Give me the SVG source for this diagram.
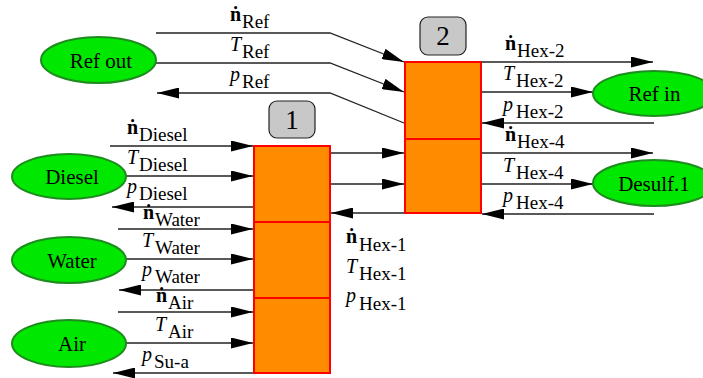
<svg xmlns="http://www.w3.org/2000/svg" width="703" height="378" viewBox="0 0 703 378">
<defs>
<marker id="ah" markerUnits="userSpaceOnUse" markerWidth="22" markerHeight="11" refX="22" refY="5.5" orient="auto" viewBox="0 0 22 11">
<path d="M0,0 L22,5.5 L0,11 z" fill="#000"/>
</marker>
</defs>

<g id="connectors" fill="none" stroke="#222" stroke-width="1.3">
<polyline points="156,33 330,33 404,62" marker-end="url(#ah)"/>
<polyline points="156,63 330,63 404,92" marker-end="url(#ah)"/>
<polyline points="404,123 330,93 157,93" marker-end="url(#ah)"/>
<line x1="481" y1="62" x2="653" y2="62" marker-end="url(#ah)"/>
<line x1="481" y1="92" x2="593" y2="92" marker-end="url(#ah)"/>
<line x1="654" y1="123" x2="482" y2="123" marker-end="url(#ah)"/>
<line x1="481" y1="153" x2="653" y2="153" marker-end="url(#ah)"/>
<line x1="481" y1="184" x2="593" y2="184" marker-end="url(#ah)"/>
<line x1="654" y1="214" x2="482" y2="214" marker-end="url(#ah)"/>
<line x1="330" y1="153" x2="404" y2="153" marker-end="url(#ah)"/>
<line x1="330" y1="184" x2="404" y2="184" marker-end="url(#ah)"/>
<line x1="404" y1="213" x2="331" y2="213" marker-end="url(#ah)"/>
<line x1="110" y1="146" x2="253" y2="146" marker-end="url(#ah)"/>
<line x1="126" y1="176" x2="253" y2="176" marker-end="url(#ah)"/>
<line x1="254" y1="207" x2="112" y2="207" marker-end="url(#ah)"/>
<line x1="118" y1="229" x2="253" y2="229" marker-end="url(#ah)"/>
<line x1="126" y1="259" x2="253" y2="259" marker-end="url(#ah)"/>
<line x1="254" y1="290" x2="119" y2="290" marker-end="url(#ah)"/>
<line x1="118" y1="312" x2="253" y2="312" marker-end="url(#ah)"/>
<line x1="126" y1="343" x2="253" y2="343" marker-end="url(#ah)"/>
<line x1="254" y1="373" x2="113" y2="373" marker-end="url(#ah)"/>
</g>

<g id="connector-labels" fill="#000">
<text style="font-family:'Liberation Serif',serif;font-size:20px"><tspan style="font-weight:bold" x="230" y="21">ṅ</tspan><tspan style="font-size:19px" x="242" y="28">Ref</tspan></text>
<text style="font-family:'Liberation Serif',serif;font-size:20px"><tspan style="font-style:italic" x="230" y="51">T</tspan><tspan style="font-size:19px" x="242" y="58">Ref</tspan></text>
<text style="font-family:'Liberation Serif',serif;font-size:20px"><tspan style="font-style:italic" x="230" y="81">p</tspan><tspan style="font-size:19px" x="242" y="88">Ref</tspan></text>

<text style="font-family:'Liberation Serif',serif;font-size:20px"><tspan style="font-weight:bold" x="505" y="50">ṅ</tspan><tspan style="font-size:19px" x="517" y="57">Hex-2</tspan></text>
<text style="font-family:'Liberation Serif',serif;font-size:20px"><tspan style="font-style:italic" x="503" y="80">T</tspan><tspan style="font-size:19px" x="516" y="87">Hex-2</tspan></text>
<text style="font-family:'Liberation Serif',serif;font-size:20px"><tspan style="font-style:italic" x="503" y="111">p</tspan><tspan style="font-size:19px" x="516" y="118">Hex-2</tspan></text>
<text style="font-family:'Liberation Serif',serif;font-size:20px"><tspan style="font-weight:bold" x="505" y="141">ṅ</tspan><tspan style="font-size:19px" x="517" y="148">Hex-4</tspan></text>
<text style="font-family:'Liberation Serif',serif;font-size:20px"><tspan style="font-style:italic" x="503" y="172">T</tspan><tspan style="font-size:19px" x="516" y="179">Hex-4</tspan></text>
<text style="font-family:'Liberation Serif',serif;font-size:20px"><tspan style="font-style:italic" x="503" y="202">p</tspan><tspan style="font-size:19px" x="516" y="209">Hex-4</tspan></text>

<text style="font-family:'Liberation Serif',serif;font-size:20px"><tspan style="font-weight:bold" x="127" y="134">ṅ</tspan><tspan style="font-size:19px" x="139" y="141">Diesel</tspan></text>
<text style="font-family:'Liberation Serif',serif;font-size:20px"><tspan style="font-style:italic" x="127" y="164">T</tspan><tspan style="font-size:19px" x="139" y="171">Diesel</tspan></text>
<text style="font-family:'Liberation Serif',serif;font-size:20px"><tspan style="font-style:italic" x="127" y="193">p</tspan><tspan style="font-size:19px" x="139" y="200">Diesel</tspan></text>
<text style="font-family:'Liberation Serif',serif;font-size:20px"><tspan style="font-weight:bold" x="143" y="219">ṅ</tspan><tspan style="font-size:19px" x="155" y="226">Water</tspan></text>
<text style="font-family:'Liberation Serif',serif;font-size:20px"><tspan style="font-style:italic" x="142" y="247">T</tspan><tspan style="font-size:19px" x="155" y="254">Water</tspan></text>
<text style="font-family:'Liberation Serif',serif;font-size:20px"><tspan style="font-style:italic" x="142" y="276">p</tspan><tspan style="font-size:19px" x="155" y="283">Water</tspan></text>
<text style="font-family:'Liberation Serif',serif;font-size:20px"><tspan style="font-weight:bold" x="156" y="302">ṅ</tspan><tspan style="font-size:19px" x="168" y="309">Air</tspan></text>
<text style="font-family:'Liberation Serif',serif;font-size:20px"><tspan style="font-style:italic" x="155" y="331">T</tspan><tspan style="font-size:19px" x="168" y="338">Air</tspan></text>
<text style="font-family:'Liberation Serif',serif;font-size:20px"><tspan style="font-style:italic" x="142" y="361">p</tspan><tspan style="font-size:19px" x="154" y="368">Su-a</tspan></text>

<text style="font-family:'Liberation Serif',serif;font-size:20px"><tspan style="font-weight:bold" x="346" y="243">ṅ</tspan><tspan style="font-size:19px" x="359" y="251">Hex-1</tspan></text>
<text style="font-family:'Liberation Serif',serif;font-size:20px"><tspan style="font-style:italic" x="346" y="273">T</tspan><tspan style="font-size:19px" x="359" y="280">Hex-1</tspan></text>
<text style="font-family:'Liberation Serif',serif;font-size:20px"><tspan style="font-style:italic" x="346" y="302">p</tspan><tspan style="font-size:19px" x="359" y="310">Hex-1</tspan></text>
</g>

<g id="node-ref-out">
<ellipse cx="98.5" cy="60" rx="57.5" ry="23" fill="#00e800" stroke="#1e8c1e" stroke-width="2"/>
<text style="font-family:'Liberation Serif',serif;font-size:21px" text-anchor="middle" x="101" y="67.5">Ref out</text>
</g>
<g id="node-ref-in">
<ellipse cx="654" cy="93.5" rx="61" ry="22.5" fill="#00e800" stroke="#1e8c1e" stroke-width="2"/>
<text style="font-family:'Liberation Serif',serif;font-size:21px" text-anchor="middle" x="654.5" y="101">Ref in</text>
</g>
<g id="node-desulf">
<ellipse cx="654" cy="183" rx="61" ry="23" fill="#00e800" stroke="#1e8c1e" stroke-width="2"/>
<text style="font-family:'Liberation Serif',serif;font-size:21px" text-anchor="middle" x="654" y="190.5">Desulf.1</text>
</g>
<g id="node-diesel">
<ellipse cx="69" cy="176.5" rx="57" ry="22.5" fill="#00e800" stroke="#1e8c1e" stroke-width="2"/>
<text style="font-family:'Liberation Serif',serif;font-size:21px" text-anchor="middle" x="72" y="184">Diesel</text>
</g>
<g id="node-water">
<ellipse cx="69" cy="260" rx="57" ry="23" fill="#00e800" stroke="#1e8c1e" stroke-width="2"/>
<text style="font-family:'Liberation Serif',serif;font-size:21px" text-anchor="middle" x="72" y="267.5">Water</text>
</g>
<g id="node-air">
<ellipse cx="69" cy="343.5" rx="57" ry="23.5" fill="#00e800" stroke="#1e8c1e" stroke-width="2"/>
<text style="font-family:'Liberation Serif',serif;font-size:21px" text-anchor="middle" x="72" y="351">Air</text>
</g>

<g id="node-hex1" fill="#ff8c00" stroke="#ff0000" stroke-width="2">
<rect x="254" y="146" width="76" height="76"/>
<rect x="254" y="222" width="76" height="76"/>
<rect x="254" y="298" width="76" height="75"/>
</g>
<g id="node-hex2" fill="#ff8c00" stroke="#ff0000" stroke-width="2">
<rect x="405" y="62" width="76" height="77"/>
<rect x="405" y="139" width="76" height="74"/>
</g>
<g id="tag-1">
<rect x="269" y="101" width="46" height="37" rx="8" fill="#c8c8c8" stroke="#222" stroke-width="1.2"/>
<text style="font-family:'Liberation Serif',serif;font-size:27px" text-anchor="middle" x="292" y="129">1</text>
</g>
<g id="tag-2">
<rect x="420" y="17" width="46" height="38" rx="8" fill="#c8c8c8" stroke="#222" stroke-width="1.2"/>
<text style="font-family:'Liberation Serif',serif;font-size:27px" text-anchor="middle" x="443" y="45">2</text>
</g>
</svg>
